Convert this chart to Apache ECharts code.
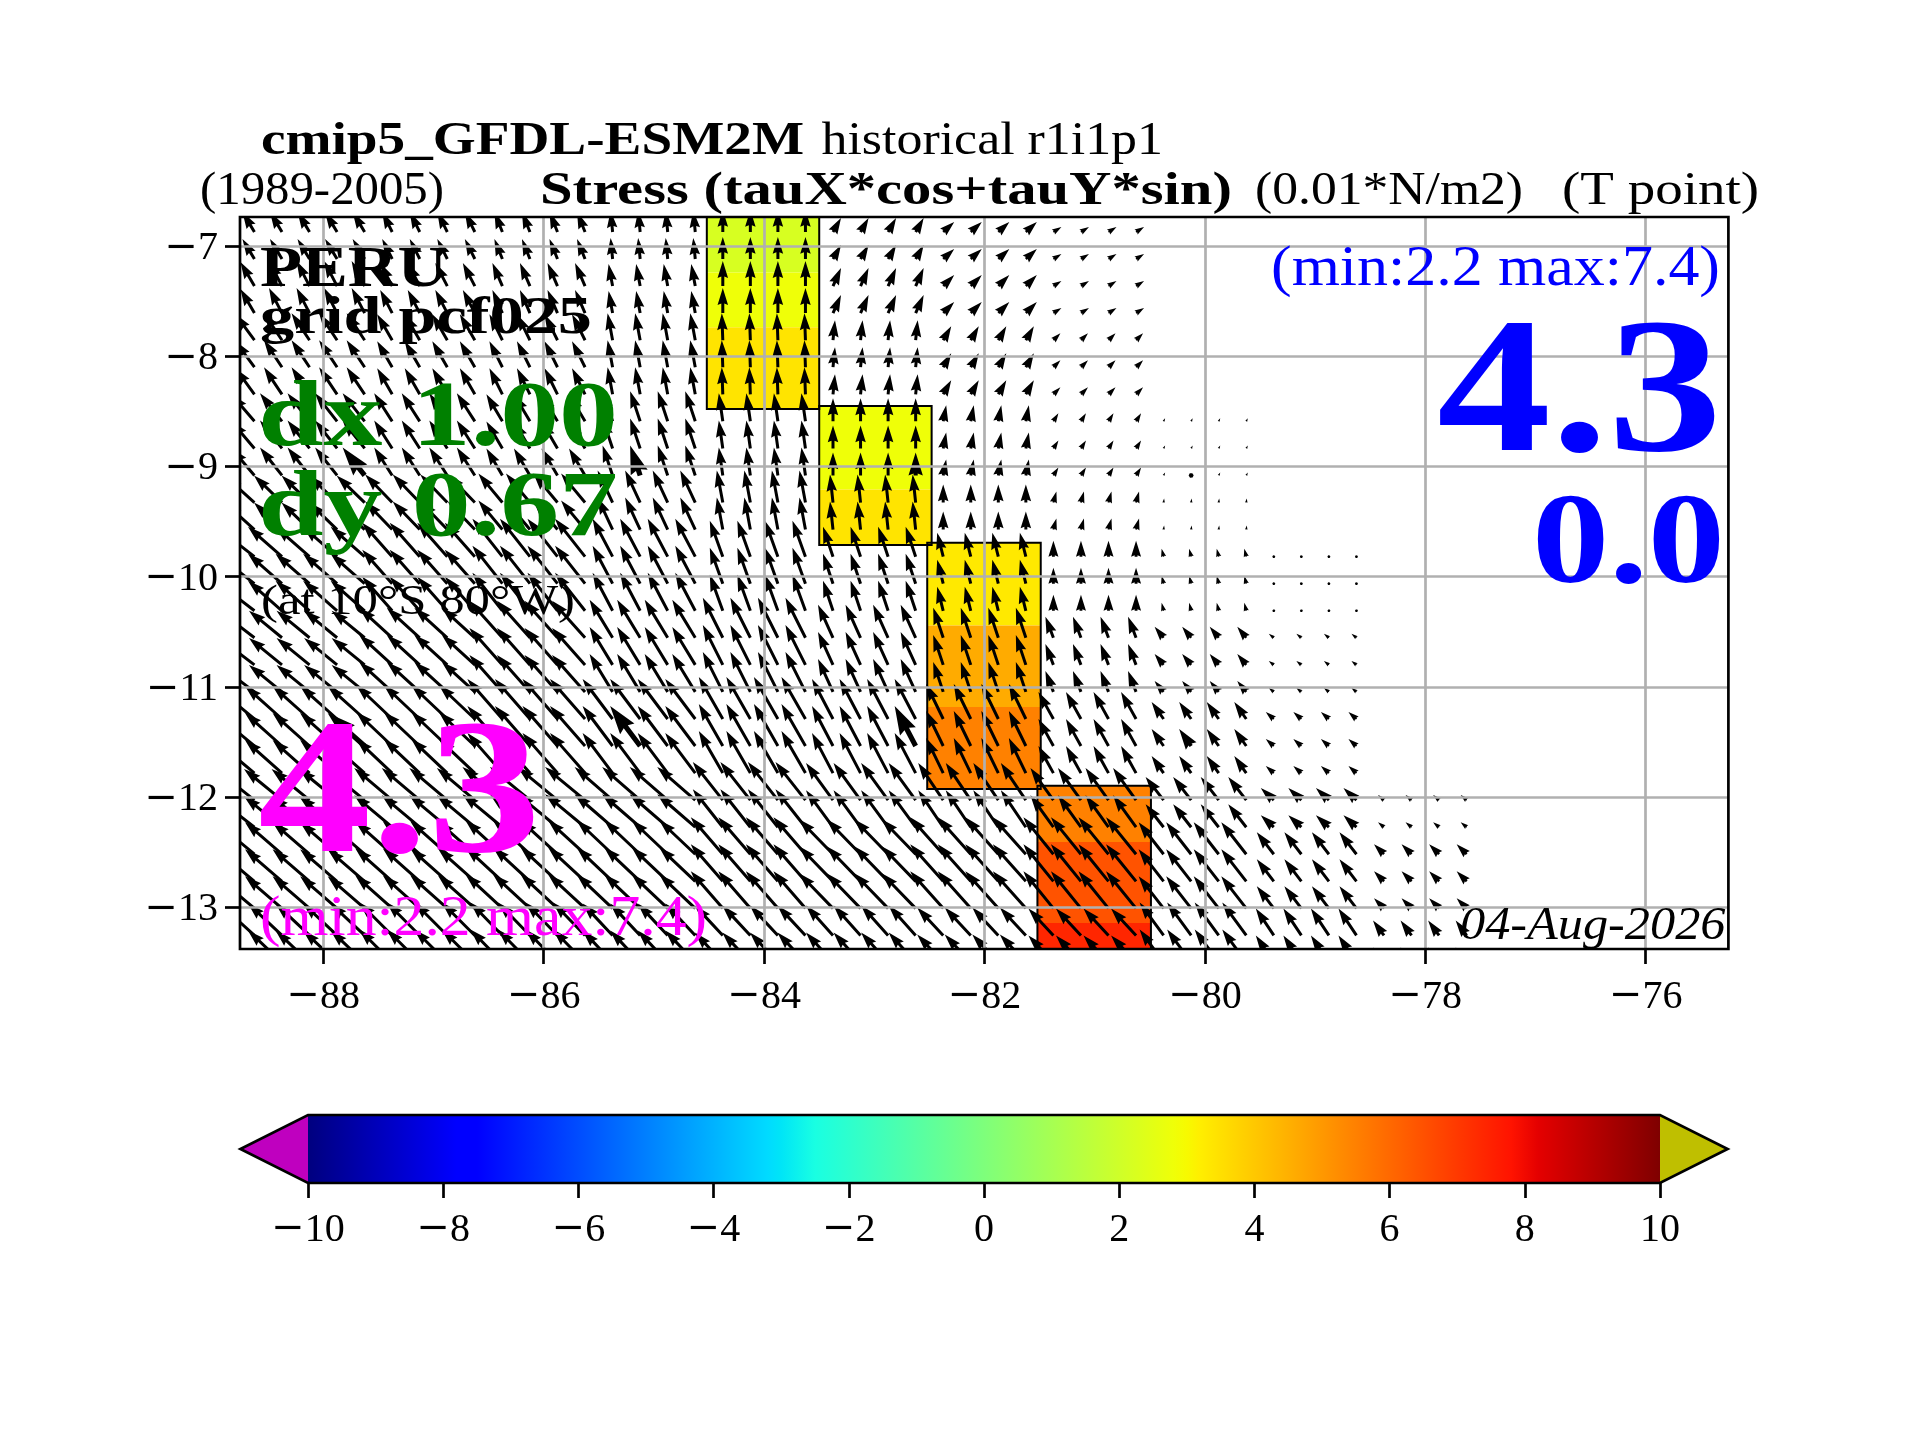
<!DOCTYPE html>
<html><head><meta charset="utf-8">
<style>html,body{margin:0;padding:0;background:#fff}#c{width:1920px;height:1440px}</style>
<script src="https://cdn.jsdelivr.net/npm/echarts@6/dist/echarts.min.js"></script>
</head><body><div id="c"></div>
<script>
// ---------- data ----------
const xTicks = [-88,-86,-84,-82,-80,-78,-76];
const yTicks = [-13,-12,-11,-10,-9,-8,-7];
const cbTicks = [-10,-8,-6,-4,-2,0,2,4,6,8,10];

// tail latitude of each row of arrows
const rowLats = [-6.873,-7.118,-7.364,-7.609,-7.855,-8.100,-8.346,-8.591,-8.837,-9.082,-9.328,-9.573,-9.819,-10.064,-10.310,-10.555,-10.801,-11.046,-11.292,-11.537,-11.783,-12.028,-12.274,-12.519,-12.765,-13.010,-13.256,-13.501];
// latitude band of each row
const rowBand = [0,0,1,1,2,2,2,3,3,3,4,4,5,5,5,6,6,6,7,7,7,8,8,9,9,9,10,10];
// tail longitude of each column of arrows
const colLons = [-88.625,-88.375,-88.125,-87.875,-87.625,-87.375,-87.125,-86.875,-86.625,-86.375,-86.125,-85.875,-85.625,-85.375,-85.125,-84.875,-84.625,-84.375,-84.125,-83.875,-83.625,-83.375,-83.125,-82.875,-82.625,-82.375,-82.125,-81.875,-81.625,-81.375,-81.125,-80.875,-80.625,-80.375,-80.125,-79.875,-79.625,-79.375,-79.125,-78.875,-78.625,-78.375,-78.125,-77.875,-77.625];
// longitude block of each column (0 = -89 ... 11 = -78)
const colBlock = [0,1,1,1,1,2,2,2,2,3,3,3,3,4,4,4,4,5,5,5,5,6,6,6,6,7,7,7,7,8,8,8,8,9,9,9,9,10,10,10,10,11,11,11,11];

// u component per latitude band (rows) and longitude block (columns)
const uBand = [
 [-12,-12,-10,-8,-2,0,8,11,8,null,null,null],
 [-14,-13,-12,-10,-4,0,8,11,8,null,null,null],
 [-19,-18,-15,-13,-5,-1,2,8,7,null,null,null],
 [-23,-22,-18,-16,-10,-4,0,3,5,1.5,null,null],
 [-29,-28,-27,-24,-15,-6,-3,0,3,0.5,null,null],
 [-36,-34,-30,-30,-20,-13,-10,-6,0,-2,-1,null],
 [-34,-33,-33,-33,-23,-20,-15,-10,-8,-9,-5,null],
 [-37,-37,-36,-35,-30,-24,-21,-17,-15,-12,-8,null],
 [-38,-38,-38,-40,-38,-30,-27,-25,-23,-18,-13,-6],
 [-37,-37,-37,-37,-36,-32,-34,-33,-30,-25,-17,-10],
 [-34,-34,-33,-32,-30,-28,-27,-26,-25,-24,-18,-11]
];
// v component per latitude band (rows) and longitude block (columns)
const vBand = [
 [20,20,20,20,21,22,14,10,5,null,null,null],
 [24,25,23,23,22,25,18,11,5,null,null,null],
 [26,27,26,26,27,27,20,14,7,null,null,null],
 [27,28,28,27,30,28,23,16,8,3,null,null],
 [26,27,28,29,32,32,28,18,11,4,null,null],
 [28,30,34,38,38,36,30,24,16,8,2,null],
 [26,27,30,37,38,40,33,30,21,11,4,null],
 [31,33,34,40,40,42,40,35,27,17,7,null],
 [30,31,32,33,33,38,37,37,32,23,12,5],
 [31,32,33,34,34,37,35,37,37,32,22,10],
 [31,32,33,33,32,30,30,28,27,33,27,15]
];
// oversized arrows seen in the picture: row index and column index
const wideRows = [9,19];
const wideCols = [4,14,24,34];

// shaded cells
const cellLonStart = [-84.52,-84.52,-84.52,-83.50,-83.50,-82.52,-82.52,-82.52,-81.52,-81.52,-81.52];
const cellLonEnd   = [-83.50,-83.50,-83.50,-82.48,-82.48,-81.49,-81.49,-81.49,-80.49,-80.49,-80.49];
const cellLatTop   = [-6.50,-7.24,-7.738,-8.452,-9.21,-9.692,-10.444,-11.183,-11.897,-12.408,-13.143];
const cellLatBot   = [-7.24,-7.738,-8.48,-9.21,-9.713,-10.444,-11.183,-11.927,-12.408,-13.143,-13.60];
const cellValues   = [2.2,2.8,3.4,2.8,3.4,3.3,4.6,5.5,5.5,6.45,7.4];
// outlined boxes: first and last cell of each
const boxFirst = [0,3,5,8];
const boxLast  = [2,4,7,10];

// jet colour map knots
const jetPos = [0,0.11,0.125,0.34,0.35,0.375,0.64,0.65,0.66,0.89,0.91,1];
const jetRGB = [[0,0,127],[0,0,255],[0,0,255],[0,219,255],[0,229,247],[25,255,226],[239,255,8],[247,250,0],[255,238,0],[255,19,0],[228,0,0],[127,0,0]];

// ---------- helpers ----------
function jet(t){
  t=Math.max(0,Math.min(1,t));
  for(let i=1;i<jetPos.length;i++){
    if(t<=jetPos[i]){
      const f=(t-jetPos[i-1])/(jetPos[i]-jetPos[i-1]);
      const c=jetRGB[i].map((v,k)=>Math.round(jetRGB[i-1][k]+(v-jetRGB[i-1][k])*f));
      return 'rgb('+c.join(',')+')';
    }
  }
  return 'rgb(127,0,0)';
}
const valueColor = v => jet((v+10)/20);
const minusFmt = v => v<0 ? '{m|\u2212}{d|'+Math.abs(v)+'}' : '{d|'+v+'}';
const tickRich = {
  m:{fontFamily:'DejaVu Serif',fontSize:40,color:'#000'},
  d:{fontFamily:'Liberation Serif',fontSize:40,color:'#000'}
};

// arrows
const arrowData=[];
rowLats.forEach((lat,r)=>colLons.forEach((lon,c)=>{
  const b=rowBand[r], k=colBlock[c], u=uBand[b][k], v=vBand[b][k];
  if(u===null) return;
  const wide=(wideRows.indexOf(r)>=0 && wideCols.indexOf(c)>=0)?1:0;
  arrowData.push([lon,lat,u,v,wide]);
}));

const SHAFT=3.0, HEAD_LEN=5.6, HEAD_AXIS=5.1, HEAD_W=3.5;
function renderArrow(params,api){
  const p=api.coord([api.value(0),api.value(1)]);
  const u=api.value(2), v=api.value(3), wide=api.value(4);
  const w=SHAFT*(wide?1.7:1);
  const L=Math.sqrt(u*u+v*v);
  const ca=u/L, sa=-v/L;
  let pts;
  if(L<w){
    pts=[];
    for(let i=0;i<6;i++){const a=i*Math.PI/3;pts.push([w*0.5*Math.cos(a),w*0.5*Math.sin(a)]);}
  } else {
    const hl=HEAD_LEN*w, ha=HEAD_AXIS*w, hw=HEAD_W*w;
    let X,Y;
    if(L<hl){
      const s=L/hl;
      X=[0,(hl-ha)*s,0,hl*s]; Y=[0.5*w*s,0.5*w*s,0.5*hw*s,0];
    } else {
      X=[0,L-ha,L-hl,L]; Y=[0.5*w,0.5*w,0.5*hw,0];
    }
    pts=[[X[0],Y[0]],[X[1],Y[1]],[X[2],Y[2]],[X[3],Y[3]],[X[2],-Y[2]],[X[1],-Y[1]],[X[0],-Y[0]]];
  }
  const out=pts.map(q=>[p[0]+q[0]*ca-q[1]*sa,p[1]+q[0]*sa+q[1]*ca]);
  return {type:'polygon',shape:{points:out},style:{fill:'#000',stroke:null}};
}

const cellData=cellValues.map((v,i)=>[cellLonStart[i],cellLonEnd[i],cellLatTop[i],cellLatBot[i],v]);
function renderCell(params,api){
  const a=api.coord([api.value(0),api.value(2)]), b=api.coord([api.value(1),api.value(3)]);
  return {type:'rect',shape:{x:a[0],y:a[1],width:b[0]-a[0],height:b[1]-a[1]},style:{fill:valueColor(api.value(4))}};
}
const boxData=boxFirst.map((f,i)=>[cellLonStart[f],cellLonEnd[f],cellLatTop[f],cellLatBot[boxLast[i]]]);
function renderBox(params,api){
  const a=api.coord([api.value(0),api.value(2)]), b=api.coord([api.value(1),api.value(3)]);
  return {type:'rect',shape:{x:a[0],y:a[1],width:b[0]-a[0],height:b[1]-a[1]},style:{fill:null,stroke:'#000',lineWidth:2}};
}

// colour bar
const cbStops=jetPos.map((p,i)=>({offset:p,color:'rgb('+jetRGB[i].join(',')+')'}));
function renderBar(params,api){
  const a=api.coord([-10,1]), b=api.coord([10,0]);
  const l=api.coord([-11.0,0.5]), r=api.coord([11.0,0.5]);
  return {type:'group',children:[
    {type:'rect',shape:{x:a[0],y:a[1],width:b[0]-a[0],height:b[1]-a[1]},
      style:{fill:new echarts.graphic.LinearGradient(0,0,1,0,cbStops)}},
    {type:'polygon',shape:{points:[[a[0],a[1]],[l[0],l[1]],[a[0],b[1]]]},style:{fill:'#BF00BF'}},
    {type:'polygon',shape:{points:[[b[0],a[1]],[r[0],r[1]],[b[0],b[1]]]},style:{fill:'#BFBF00'}},
    {type:'polygon',shape:{points:[[a[0],a[1]],[b[0],a[1]],[r[0],r[1]],[b[0],b[1]],[a[0],b[1]],[l[0],l[1]]]},
      style:{fill:null,stroke:'#000',lineWidth:2.7,lineJoin:'miter'}}
  ]};
}

// text
const SERIF='"Liberation Serif"';
const labels=[
 {t:'cmip5_GFDL-ESM2M',x0:261,x1:804,b:153.3,s:46.7,w:'bold',c:'#000'},
 {t:'historical r1i1p1',x0:821.5,x1:1163,b:153.3,s:46.7,c:'#000'},
 {t:'(1989-2005)',x0:200,x1:444,b:203.3,s:46.7,c:'#000'},
 {t:'Stress (tauX*cos+tauY*sin)',x0:540,x1:1232,b:203.3,s:46.7,w:'bold',c:'#000'},
 {t:'(0.01*N/m2)',x0:1255,x1:1523,b:203.3,s:46.7,c:'#000'},
 {t:'(T point)',x0:1562,x1:1759,b:203.3,s:46.7,c:'#000'},
 {t:'PERU',x0:260,x1:447,b:285,s:58,w:'bold',c:'#000'},
 {t:'grid pcf025',x0:260,x1:592,b:331.7,s:52,w:'bold',c:'#000'},
 {t:'dx 1.00',x0:258,x1:618,b:445,s:93,w:'bold',c:'#008000'},
 {t:'dy 0.67',x0:258,x1:618,b:535,s:93,w:'bold',c:'#008000'},
 {t:'(at 10\u00B0S 80\u00B0W)',x0:261,x1:575,b:613,s:42,c:'#000'},
 {t:'4.3',x0:258,x1:541,b:853,s:193,w:'bold',c:'#FF00FF'},
 {t:'(min:2.2 max:7.4)',x0:260,x1:707,b:934,s:58,c:'#FF00FF'},
 {t:'(min:2.2 max:7.4)',x0:1271,x1:1720,b:284,s:58,c:'#0000FF'},
 {t:'4.3',x0:1437,x1:1722,b:451.7,s:193,w:'bold',c:'#0000FF'},
 {t:'0.0',x0:1532,x1:1725,b:583,s:129,w:'bold',c:'#0000FF'},
 {t:'04-Aug-2026',x0:1460,x1:1725.5,b:937.3,s:46,i:1,c:'#000'}
];
const ctx=document.createElement('canvas').getContext('2d');
const BASE_SHIFT=0.28, BASE_OFFSET=2;
const graphicEls=labels.map(o=>{
  const font=(o.i?'italic ':'')+(o.w?o.w+' ':'')+o.s+'px '+SERIF;
  ctx.font=font;
  const wd=ctx.measureText(o.t).width;
  return {type:'text',x:o.x0,y:o.b-BASE_SHIFT*o.s+BASE_OFFSET,scaleX:(o.x1-o.x0)/wd,originX:0,originY:0,z:100,silent:true,
    style:{text:o.t,x:0,y:0,font:font,fill:o.c,textAlign:'left',textVerticalAlign:'middle'}};
});

const option={
  animation:false,
  backgroundColor:'#fff',
  grid:[
    {left:240,top:217,width:1488.4,height:732,show:true,borderColor:'#000',borderWidth:2.7,backgroundColor:'transparent',z:6},
    {left:308,top:1115,width:1352,height:68,show:false}
  ],
  xAxis:[
    {type:'value',gridIndex:0,min:-88.756,max:-75.25,z:5,
     axisLine:{show:false},
     axisTick:{show:true,length:15,inside:false,customValues:xTicks,lineStyle:{color:'#000',width:2.7}},
     axisLabel:{show:true,margin:28,customValues:xTicks,formatter:minusFmt,rich:tickRich},
     splitLine:{show:true,lineStyle:{color:'#B0B0B0',width:2.7}}},
    {type:'value',gridIndex:1,min:-10,max:10,interval:2,
     axisLine:{show:false},
     axisTick:{show:true,length:15,lineStyle:{color:'#000',width:2.7}},
     axisLabel:{show:true,margin:27,formatter:minusFmt,rich:tickRich},
     splitLine:{show:false}}
  ],
  yAxis:[
    {type:'value',gridIndex:0,min:-13.379,max:-6.737,z:5,
     axisLine:{show:false},
     axisTick:{show:true,length:15,customValues:yTicks,lineStyle:{color:'#000',width:2.7}},
     axisLabel:{show:true,margin:22,customValues:yTicks,formatter:minusFmt,rich:tickRich,padding:[5,0,0,0]},
     splitLine:{show:true,lineStyle:{color:'#B0B0B0',width:2.7}}},
    {type:'value',gridIndex:1,min:0,max:1,show:false}
  ],
  series:[
    {type:'custom',xAxisIndex:0,yAxisIndex:0,z:1,clip:true,silent:true,renderItem:renderCell,data:cellData,
     encode:{x:[0,1],y:[2,3]}},
    {type:'custom',xAxisIndex:0,yAxisIndex:0,z:2,clip:true,silent:true,renderItem:renderBox,data:boxData,
     encode:{x:[0,1],y:[2,3]}},
    {type:'custom',xAxisIndex:0,yAxisIndex:0,z:3,clip:true,silent:true,renderItem:renderArrow,data:arrowData,
     encode:{x:0,y:1},progressive:0},
    {type:'custom',xAxisIndex:1,yAxisIndex:1,z:3,clip:false,silent:true,renderItem:renderBar,data:[[0,0]]}
  ],
  graphic:{elements:graphicEls}
};
const chart=echarts.init(document.getElementById('c'),null,{renderer:'canvas',width:1920,height:1440});
chart.setOption(option);
</script></body></html>
